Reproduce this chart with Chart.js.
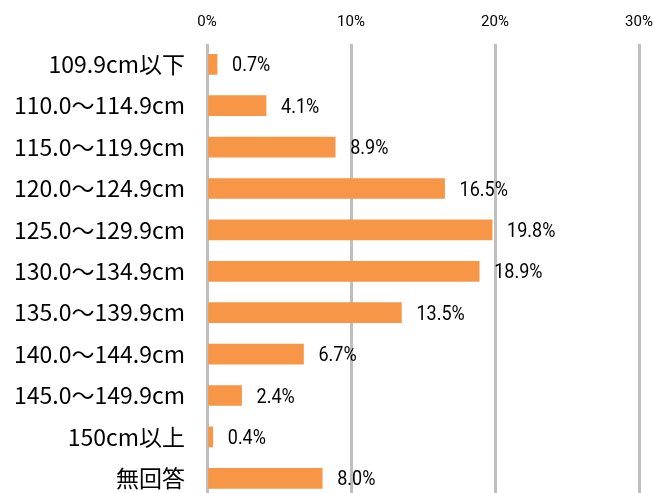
<!DOCTYPE html>
<html lang="ja">
<head>
<meta charset="utf-8">
<title>身長分布</title>
<script src="https://cdn.jsdelivr.net/npm/chart.js@4"></script>
<style>
    html, body { margin: 0; padding: 0; background: #fff; overflow: hidden; }
    #wrap { width: 654px; height: 500px; }
</style>
</head>
<body>
<div id="wrap"><canvas id="heightChart" width="654" height="500"></canvas></div>
<script>
// Height ranges and share of respondents (%)
const categories = [
    '109.9cm以下', '110.0～114.9cm', '115.0～119.9cm', '120.0～124.9cm',
    '125.0～129.9cm', '130.0～134.9cm', '135.0～139.9cm', '140.0～144.9cm',
    '145.0～149.9cm', '150cm以上', '無回答'
];
const shares = [0.7, 4.1, 8.9, 16.5, 19.8, 18.9, 13.5, 6.7, 2.4, 0.4, 8.0];
const tickValues = [0, 10, 20, 30];

// Value label to the right of each bar, slightly condensed
const valueLabels = {
    id: 'valueLabels',
    afterDatasetsDraw(chart) {
        const ctx = chart.ctx;
        const meta = chart.getDatasetMeta(0);
        ctx.save();
        ctx.font = '20px Roboto, sans-serif';
        ctx.fillStyle = '#000';
        ctx.textAlign = 'left';
        ctx.textBaseline = 'middle';
        meta.data.forEach((bar, i) => {
            ctx.save();
            ctx.translate(bar.x + 15, bar.y + 2);
            ctx.scale(0.9, 1);
            ctx.fillText(shares[i].toFixed(1) + '%', 0, 0);
            ctx.restore();
        });
        ctx.restore();
    }
};

const ctx = document.getElementById('heightChart');
new Chart(ctx, {
    type: 'bar',
    data: {
        labels: categories,
        datasets: [{
            data: shares,
            backgroundColor: '#F79646',
            borderWidth: 0,
            barThickness: 20
        }]
    },
    options: {
        indexAxis: 'y',
        responsive: false,
        animation: false,
        layout: { padding: { top: 0, right: 15, bottom: 1, left: 0 } },
        plugins: {
            legend: { display: false },
            tooltip: { enabled: false }
        },
        scales: {
            x: {
                position: 'top',
                min: 0,
                max: 30,
                afterFit(scale) {
                    scale.height = 43.6;
                    scale.paddingLeft = 0;
                    scale.paddingRight = 0;
                },
                afterBuildTicks(scale) {
                    scale.ticks = tickValues.map(v => ({ value: v }));
                },
                border: { display: false },
                grid: {
                    color: '#BFBFBF',
                    lineWidth: 3,
                    drawTicks: false
                },
                ticks: {
                    padding: 12,
                    color: '#000',
                    font: { family: 'Roboto, sans-serif', size: 15 },
                    callback: v => v + '%'
                }
            },
            y: {
                afterFit(scale) {
                    scale.width = 207;
                    scale.paddingTop = 0;
                    scale.paddingBottom = 0;
                },
                border: { display: false },
                grid: { display: false, drawTicks: false },
                ticks: {
                    padding: 22,
                    color: '#000',
                    font: { family: '"Noto Sans CJK JP", sans-serif', size: 23 }
                }
            }
        }
    },
    plugins: [valueLabels]
});
</script>
</body>
</html>
